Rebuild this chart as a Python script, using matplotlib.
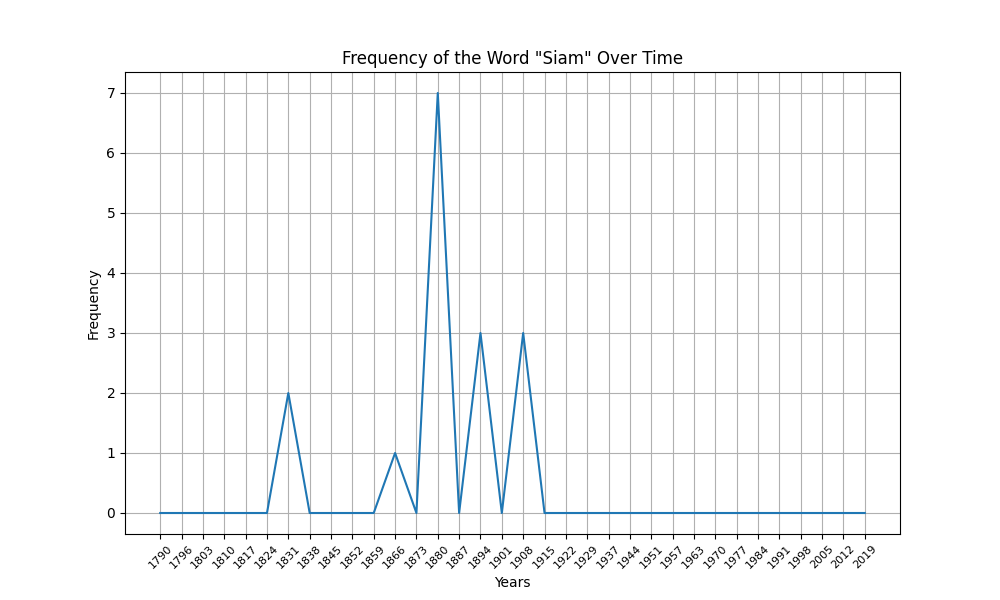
import matplotlib
matplotlib.use("Agg")
import matplotlib.pyplot as plt

years = ["1790", "1796", "1803", "1810", "1817", "1824", "1831", "1838", "1845",
         "1852", "1859", "1866", "1873", "1880", "1887", "1894", "1901", "1908",
         "1915", "1922", "1929", "1937", "1944", "1951", "1957", "1963", "1970",
         "1977", "1984", "1991", "1998", "2005", "2012", "2019"]
frequency = [0, 0, 0, 0, 0, 0, 2, 0, 0, 0, 0, 1, 0, 7, 0, 3, 0, 3,
             0, 0, 0, 0, 0, 0, 0, 0, 0, 0, 0, 0, 0, 0, 0, 0]

fig, ax = plt.subplots(figsize=(10, 6), dpi=100)
ax.plot(years, frequency)
ax.set_title('Frequency of the Word "Siam" Over Time')
ax.set_xlabel("Years")
ax.set_ylabel("Frequency")
plt.xticks(rotation=45, fontsize=8)
ax.grid(True)
fig.savefig("out.png")
